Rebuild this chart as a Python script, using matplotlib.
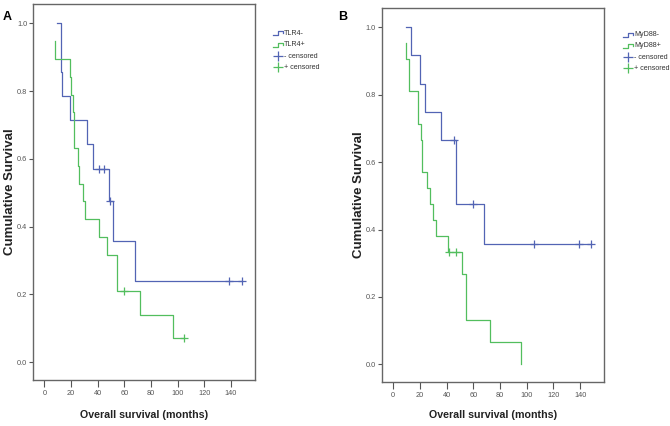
import matplotlib
matplotlib.use("Agg")
import matplotlib.pyplot as plt
from matplotlib import font_manager

names = set(f.name for f in font_manager.fontManager.ttflist)
narrow = "Liberation Sans Narrow" if "Liberation Sans Narrow" in names else "Liberation Sans"
small = 1.0 if narrow == "Liberation Sans Narrow" else 0.85

# panel A: TLR4 (step start times and survival levels)
tlr4_neg_t = [9.7, 12.5, 13.4, 19.3, 32.3, 36.3, 48.3, 51.3, 68.0]
tlr4_neg_s = [1.0, 0.857, 0.786, 0.714, 0.643, 0.571, 0.476, 0.357, 0.238]
tlr4_neg_end = 148
tlr4_neg_cens_t = [41.3, 45.0, 49.5, 138.8, 148]
tlr4_neg_cens_s = [0.571, 0.571, 0.476, 0.238, 0.238]

tlr4_pos_t = [8.3, 8.3, 19.3, 20.3, 21.8, 22.3, 25.0, 26.3, 28.8, 30.3, 41.0, 47.3, 54.3, 71.8, 96.3]
tlr4_pos_s = [0.947, 0.895, 0.842, 0.789, 0.737, 0.632, 0.579, 0.526, 0.474, 0.421, 0.368, 0.316, 0.211, 0.140, 0.070]
tlr4_pos_end = 105
tlr4_pos_cens_t = [60, 105]
tlr4_pos_cens_s = [0.211, 0.070]

# panel B: MyD88
myd_neg_t = [9.5, 13.2, 19.9, 24.2, 36.2, 46.8, 67.9]
myd_neg_s = [1.0, 0.917, 0.833, 0.75, 0.667, 0.476, 0.357]
myd_neg_end = 148.3
myd_neg_cens_t = [45.5, 60, 105.5, 139.3, 148.3]
myd_neg_cens_s = [0.667, 0.476, 0.357, 0.357, 0.357]

myd_pos_t = [9.5, 9.5, 12.0, 18.9, 20.9, 21.9, 25.1, 27.6, 30.1, 31.9, 41.3, 51.3, 54.3, 72.2, 96.0]
myd_pos_s = [0.952, 0.905, 0.810, 0.714, 0.667, 0.571, 0.524, 0.476, 0.429, 0.381, 0.333, 0.267, 0.133, 0.067, 0.0]
myd_pos_end = 96.0
myd_pos_cens_t = [41.8, 47.3]
myd_pos_cens_s = [0.333, 0.333]

xticks = [0, 20, 40, 60, 80, 100, 120, 140]
yticks = [0.0, 0.2, 0.4, 0.6, 0.8, 1.0]
ytick_labels = ["0.0", "0.2", "0.4", "0.6", "0.8", "1.0"]

blue = "#5264b4"
green = "#52be5e"
W, H = 670, 426

fig = plt.figure(figsize=(6.7, 4.26), dpi=100)


def px(x, y):
    return x / W, 1 - y / H


def km(ax, t, s, end, ct, cs, color):
    ax.step(t + [end], s + [s[-1]], where="post", color=color, lw=0.9)
    ax.plot(ct, cs, "+", color=color, ms=6, mew=0.9, ls="none")


def setup(ax):
    ax.set_xlim(-8.5, 158)
    ax.set_ylim(-0.053, 1.057)
    ax.set_xticks(xticks)
    ax.set_yticks(yticks)
    ax.set_yticklabels(ytick_labels)
    for lab in ax.get_xticklabels() + ax.get_yticklabels():
        lab.set_fontfamily(narrow)
        lab.set_fontsize(6.3 * small)
        lab.set_color("#444444")
    ax.tick_params(axis="x", direction="out", length=5, width=0.8, pad=2, colors="#555555")
    ax.tick_params(axis="y", direction="out", length=3, width=0.8, pad=1, colors="#555555")
    for sp in ax.spines.values():
        sp.set_color("#666666")
        sp.set_linewidth(1.0)


def legend(x0, ys, labels):
    cols = [blue, green, blue, green]
    for i, (y, lab) in enumerate(zip(ys, labels)):
        if i < 2:
            xs = [x0, x0 + 5, x0 + 5, x0 + 10, x0 + 10]
            yy = [y + 2, y + 2, y - 2, y - 2, y]
            fig.add_artist(plt.Line2D([a / W for a in xs], [1 - b / H for b in yy],
                                      color=cols[i], lw=0.9, transform=fig.transFigure))
        else:
            fig.add_artist(plt.Line2D([(x0 + 5) / W], [1 - y / H], marker="+", ms=7, mew=0.9,
                                      color=cols[i], transform=fig.transFigure))
        fig.text(*px(x0 + 11, y), lab, fontsize=6 * small, family=narrow, color="#333333",
                 ha="left", va="center")


# panel A
axA = fig.add_axes([33 / W, 1 - 380 / H, 222 / W, 376 / H])
km(axA, tlr4_neg_t, tlr4_neg_s, tlr4_neg_end, tlr4_neg_cens_t, tlr4_neg_cens_s, blue)
km(axA, tlr4_pos_t, tlr4_pos_s, tlr4_pos_end, tlr4_pos_cens_t, tlr4_pos_cens_s, green)
setup(axA)

# panel B
axB = fig.add_axes([381.7 / W, 1 - 382.3 / H, 222.6 / W, 374.3 / H])
km(axB, myd_neg_t, myd_neg_s, myd_neg_end, myd_neg_cens_t, myd_neg_cens_s, blue)
km(axB, myd_pos_t, myd_pos_s, myd_pos_end, myd_pos_cens_t, myd_pos_cens_s, green)
setup(axB)

fig.text(*px(7.5, 16.7), "A", fontsize=9, fontweight="bold", family="Liberation Sans", ha="center", va="center")
fig.text(*px(342.5, 16.7), "B", fontsize=9, fontweight="bold", family="Liberation Sans", ha="center", va="center")

fig.text(*px(10.5, 192), "Cumulative Survival", rotation=90, fontsize=9.5, fontweight="bold",
         family="Liberation Sans", ha="center", va="center", color="#222222")
fig.text(*px(359.5, 195), "Cumulative Survival", rotation=90, fontsize=9.5, fontweight="bold",
         family="Liberation Sans", ha="center", va="center", color="#222222")
fig.text(*px(143.7, 415), "Overall survival (months)", fontsize=9 * small, fontweight="bold",
         family=narrow, ha="center", va="center", color="#222222")
fig.text(*px(493, 415), "Overall survival (months)", fontsize=9 * small, fontweight="bold",
         family=narrow, ha="center", va="center", color="#222222")

legend(273, [33.3, 44.5, 56, 67.3], ["TLR4-", "TLR4+", "- censored", "+ censored"])
legend(623, [35, 45.7, 57.3, 68.3], ["MyD88-", "MyD88+", "- censored", "+ censored"])

fig.savefig("out.png", dpi=100)
